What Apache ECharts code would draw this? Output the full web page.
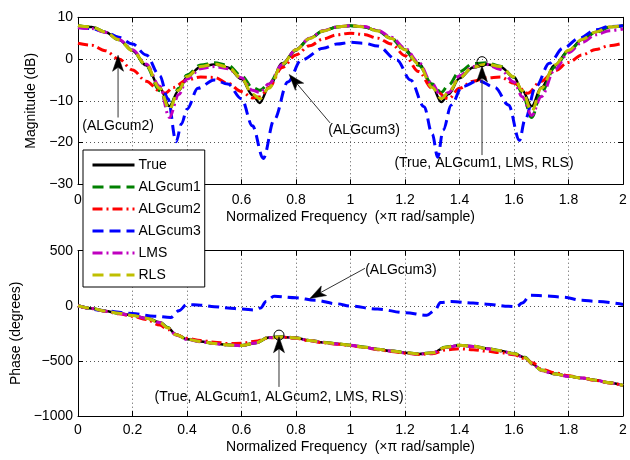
<!DOCTYPE html>
<html><head><meta charset="utf-8">
<script src="https://cdn.jsdelivr.net/npm/echarts@6/dist/echarts.min.js"></script>
<style>html,body{margin:0;padding:0;background:#fff}#c{width:630px;height:460px}</style>
</head><body><div id="c"></div>
<script>
// ---------------- data ----------------
const seriesNames = ['True', 'ALGcum1', 'ALGcum2', 'ALGcum3', 'LMS', 'RLS'];
const xTickValues = [0, 0.2, 0.4, 0.6, 0.8, 1, 1.2, 1.4, 1.6, 1.8, 2];
const magTicks = [-30, -20, -10, 0, 10];
const phaseTicks = [-1000, -500, 0, 500];

// magnitude (dB)
const freqMag = [0,0.05,0.1,0.15,0.2,0.25,0.3,0.335,0.37,0.4,0.45,0.5,0.55,0.6,0.64,0.667,0.7,0.75,0.8,0.85,0.9,0.95,1.0,1.05,1.1,1.15,1.2,1.25,1.3,1.333,1.36,1.4,1.45,1.5,1.55,1.6,1.63,1.665,1.7,1.75,1.8,1.85,1.9,1.95,2.0];
const magTrue = [8.0,7.7,6.5,4.6,2.0,-1.5,-6.8,-11.3,-7.5,-4.3,-1.9,-1.3,-2.0,-4.8,-8.6,-10.5,-6.8,-1.0,2.3,5.0,6.8,7.7,8.0,7.7,6.8,5.0,2.3,-1.0,-6.6,-10.3,-8.4,-4.6,-2.0,-1.3,-1.9,-4.3,-7.5,-11.3,-6.8,-1.5,2.0,4.6,6.5,7.7,8.0];
const magAlg1 = [8.0,7.7,6.5,4.6,2.1,-1.6,-7.6,-12.0,-7.0,-3.8,-1.4,-0.9,-1.5,-4.0,-6.8,-7.5,-6.0,-1.4,2.1,4.9,6.7,7.7,8.0,7.7,6.7,4.9,2.0,-1.5,-6.0,-8.0,-6.2,-3.0,-1.1,-0.9,-1.7,-4.4,-8.2,-14.0,-8.0,-1.9,1.9,4.5,6.4,7.6,8.0];
const magLMS = [7.5,7.3,6.4,4.7,2.2,-1.2,-6.5,-14.0,-8.5,-4.8,-2.3,-1.8,-2.3,-4.5,-7.5,-8.0,-6.0,-1.3,2.2,5.0,6.8,7.7,8.0,7.8,6.9,5.2,2.6,-0.8,-6.0,-9.0,-8.0,-4.0,-1.8,-1.3,-2.5,-5.5,-9.0,-13.5,-9.0,-2.5,1.5,4.0,5.8,6.8,7.2];
const magRLS = [8.0,7.7,6.5,4.6,2.0,-1.4,-7.0,-12.0,-7.4,-4.2,-1.8,-1.2,-1.9,-4.6,-8.4,-9.5,-7.0,-1.2,2.2,4.9,6.7,7.7,8.0,7.7,6.7,4.9,2.2,-1.2,-6.8,-9.5,-8.0,-4.5,-1.9,-1.2,-1.8,-4.3,-7.6,-12.5,-7.0,-1.4,2.1,4.7,6.5,7.7,8.0];
const freqAlg2 = [0,0.05,0.1,0.15,0.2,0.25,0.3,0.32,0.35,0.4,0.45,0.5,0.55,0.6,0.64,0.67,0.7,0.75,0.8,0.85,0.9,0.95,1.0,1.05,1.1,1.15,1.2,1.25,1.3,1.36,1.4,1.45,1.5,1.55,1.6,1.65,1.7,1.75,1.8,1.85,1.9,1.95,2.0];
const magAlg2 = [3.8,3.3,2.0,0.0,-2.6,-5.3,-7.6,-8.2,-6.8,-5.0,-4.3,-4.4,-5.8,-7.8,-9.3,-9.0,-6.8,-2.0,1.0,3.2,4.8,5.8,6.2,5.9,5.0,3.6,0.8,-3.0,-7.0,-9.5,-7.0,-5.3,-4.5,-4.3,-5.8,-8.2,-5.3,-2.8,-0.8,1.0,2.3,3.2,3.8];
const freqAlg3 = [0,0.05,0.1,0.15,0.2,0.25,0.3,0.33,0.36,0.38,0.4,0.44,0.5,0.55,0.6,0.64,0.68,0.72,0.77,0.82,0.9,0.95,1.0,1.05,1.1,1.17,1.22,1.27,1.3,1.32,1.34,1.37,1.41,1.47,1.53,1.58,1.62,1.64,1.68,1.73,1.78,1.84,1.9,1.95,2.0];
const magAlg3 = [7.6,7.3,6.5,5.2,3.6,1.0,-4.0,-9.5,-19.8,-15.5,-12.0,-7.0,-5.0,-6.0,-9.5,-16.0,-23.8,-14.5,-5.5,-0.2,2.6,3.6,4.0,3.8,3.1,-0.2,-5.0,-11.4,-18.0,-23.5,-17.0,-11.0,-6.6,-5.2,-6.8,-11.0,-19.5,-14.6,-6.6,-1.0,2.6,5.0,7.0,7.8,8.0];

// phase (degrees)
const freqPh = [0,0.05,0.1,0.15,0.2,0.25,0.3,0.33,0.36,0.4,0.45,0.5,0.55,0.6,0.65,0.7,0.75,0.8,0.85,0.9,0.95,1.0,1.05,1.1,1.15,1.2,1.25,1.3,1.35,1.4,1.45,1.5,1.55,1.6,1.64,1.67,1.7,1.75,1.8,1.85,1.9,1.95,2.0];
const phTrue = [0,-24,-48,-68,-87,-112,-150,-200,-262,-303,-325,-342,-355,-362,-340,-288,-282,-292,-315,-332,-345,-358,-375,-395,-410,-425,-437,-428,-375,-358,-367,-388,-408,-435,-470,-530,-585,-618,-640,-655,-675,-698,-723];
const phAlg1 = [0,-24,-48,-68,-86,-110,-148,-198,-260,-302,-324,-341,-354,-360,-338,-286,-280,-291,-314,-331,-344,-357,-374,-394,-409,-424,-436,-427,-373,-357,-366,-387,-407,-433,-468,-528,-583,-617,-639,-655,-675,-698,-723];
const phAlg2 = [0,-25,-50,-72,-95,-125,-175,-215,-262,-295,-315,-330,-342,-340,-322,-290,-285,-295,-318,-335,-348,-360,-378,-398,-415,-430,-442,-435,-400,-390,-398,-412,-425,-445,-480,-520,-575,-608,-635,-655,-678,-700,-724];
const phLMS = [0,-25,-50,-70,-88,-114,-152,-203,-265,-305,-326,-343,-356,-362,-338,-290,-283,-293,-316,-333,-346,-359,-376,-396,-411,-426,-438,-428,-378,-360,-369,-390,-410,-437,-473,-533,-588,-620,-641,-656,-676,-699,-724];
const phRLS = [0,-24,-48,-68,-87,-112,-151,-201,-262,-303,-325,-342,-355,-361,-339,-288,-282,-292,-315,-332,-345,-358,-375,-395,-410,-425,-437,-427,-375,-358,-367,-388,-408,-435,-471,-531,-585,-618,-640,-655,-675,-698,-723];
const freqPhAlg3 = [0,0.1,0.2,0.28,0.34,0.37,0.4,0.45,0.5,0.55,0.6,0.65,0.67,0.69,0.72,0.8,0.87,0.95,1.0,1.1,1.2,1.28,1.31,1.33,1.37,1.45,1.5,1.58,1.61,1.63,1.66,1.72,1.78,1.85,1.9,2.0];
const phAlg3 = [0,-45,-70,-94,-106,-45,12,6,-8,-20,-30,-38,-20,40,86,72,50,18,-3,-30,-62,-86,-40,30,38,25,15,-5,-8,25,95,90,78,50,40,12];

// annotations (data coordinates)
const magNotes = [
  {text: '(ALGcum2)', at: [0.147, -16.0], tail: [0.147, -14.0], tip: [0.147, 0.9]},
  {text: '(ALGcum3)', at: [1.05, -17.0], tail: [0.925, -15.3], tip: [0.775, -3.7]},
  {text: '(True, ALGcum1, LMS, RLS)', at: [1.49, -25.0], tail: [1.4826, -23.0], tip: [1.4826, -1.66], circle: [1.4826, -0.63]}
];
const phNotes = [
  {text: '(ALGcum3)', at: [1.185, 324], tail: [1.053, 340], tip: [0.851, 67]},
  {text: '(True, ALGcum1, ALGcum2, LMS, RLS)', at: [0.738, -827], tail: [0.7376, -736], tip: [0.7376, -280], circle: [0.7376, -266]}
];

// ---------------- chart ----------------
const FONT = '"Liberation Sans", Arial, Helvetica, sans-serif';
const FS = 14;
const styleMap = {
  'True':    {color: '#000000', width: 2.5, type: 'solid'},
  'ALGcum1': {color: '#008000', width: 3, type: [11, 6]},
  'ALGcum2': {color: '#ff0000', width: 3, type: [10, 4, 2, 4]},
  'ALGcum3': {color: '#0000ff', width: 3, type: [11, 6]},
  'LMS':     {color: '#bf00bf', width: 3, type: [10, 4, 2, 4]},
  'RLS':     {color: '#bfbf00', width: 3, type: [11, 6]}
};
const pairs = (xs, ys) => xs.map((x, i) => [x, ys[i]]);
const fmt = v => String(Math.round(v * 10) / 10).replace('-', '\u2212');
const gridLine = {show: true, lineStyle: {color: '#555', width: 1, type: [1, 3]}};
const axLine = {show: true, onZero: false, lineStyle: {color: '#000', width: 1}};
const tick = {show: true, inside: true, length: 5, lineStyle: {color: '#000', width: 1}};
const lbl = {color: '#000', fontSize: FS, fontFamily: FONT, formatter: fmt};

function xAxes(gi, margin, nameGap) {
  return [
    {type: 'value', gridIndex: gi, position: 'bottom', min: 0, max: 2, interval: 0.2,
     axisLine: axLine, axisTick: tick, splitLine: gridLine,
     axisLabel: Object.assign({margin: margin, showMinLabel: true, showMaxLabel: true}, lbl),
     name: 'Normalized Frequency  (\u00d7\u03c0 rad/sample)', nameLocation: 'middle', nameGap: nameGap,
     nameTextStyle: {color: '#000', fontSize: FS, fontFamily: FONT}},
    {type: 'value', gridIndex: gi, position: 'top', min: 0, max: 2, interval: 0.2,
     axisLine: axLine, axisTick: tick, splitLine: {show: false}, axisLabel: {show: false}}
  ];
}
function yAxes(gi, min, max, interval, name, nameGap) {
  return [
    {type: 'value', gridIndex: gi, position: 'left', min: min, max: max, interval: interval,
     axisLine: axLine, axisTick: tick, splitLine: gridLine,
     axisLabel: Object.assign({margin: 5, showMinLabel: true, showMaxLabel: true}, lbl),
     name: name, nameLocation: 'middle', nameGap: nameGap, nameRotate: 90,
     nameTextStyle: {color: '#000', fontSize: FS, fontFamily: FONT}},
    {type: 'value', gridIndex: gi, position: 'right', min: min, max: max, interval: interval,
     axisLine: axLine, axisTick: tick, splitLine: {show: false}, axisLabel: {show: false}}
  ];
}

const magData = {'True': pairs(freqMag, magTrue), 'ALGcum1': pairs(freqMag, magAlg1), 'ALGcum2': pairs(freqAlg2, magAlg2),
                 'ALGcum3': pairs(freqAlg3, magAlg3), 'LMS': pairs(freqMag, magLMS), 'RLS': pairs(freqMag, magRLS)};
const phData = {'True': pairs(freqPh, phTrue), 'ALGcum1': pairs(freqPh, phAlg1), 'ALGcum2': pairs(freqPh, phAlg2),
                'ALGcum3': pairs(freqPhAlg3, phAlg3), 'LMS': pairs(freqPh, phLMS), 'RLS': pairs(freqPh, phRLS)};

function mkSeries(name, data, xi, yi) {
  const s = styleMap[name];
  return {type: 'line', name: name, data: data, xAxisIndex: xi, yAxisIndex: yi,
    symbol: 'none', smooth: 0.35, smoothMonotone: 'x', clip: true, silent: true,
    color: s.color, lineStyle: {color: s.color, width: s.width, type: s.type, cap: 'butt'}};
}
const series = [];
seriesNames.forEach(n => series.push(mkSeries(n, magData[n], 0, 0)));
seriesNames.forEach(n => series.push(mkSeries(n, phData[n], 2, 2)));

const chart = echarts.init(document.getElementById('c'), null, {renderer: 'canvas'});
const option = {
  animation: false,
  backgroundColor: '#fff',
  grid: [
    {left: 78, right: 7, top: 17.3, height: 167, containLabel: false, outerBoundsMode: 'none'},
    {left: 78, right: 7, top: 250.7, height: 165.3, containLabel: false, outerBoundsMode: 'none'}
  ],
  xAxis: xAxes(0, 8.5, 25.5).concat(xAxes(1, 7, 24)),
  yAxis: yAxes(0, magTicks[0], magTicks[magTicks.length - 1], 10, 'Magnitude (dB)', 33)
    .concat(yAxes(1, phaseTicks[0], phaseTicks[phaseTicks.length - 1], 500, 'Phase (degrees)', 48)),
  legend: {
    show: true, orient: 'vertical', left: 83, top: 150,
    data: seriesNames, selectedMode: false,
    itemWidth: 42, itemHeight: 14, itemGap: 8,
    padding: [8, 4, 5, 8],
    backgroundColor: '#fff', borderColor: '#000', borderWidth: 1, borderRadius: 0,
    itemStyle: {opacity: 0},
    lineStyle: {width: 3},
    textStyle: {color: '#000', fontSize: FS, fontFamily: FONT, padding: [0, 0, 0, -1]},
    z: 20
  },
  series: series
};
chart.setOption(option);

// annotations placed through the axes' own scales
function arrowGraphics(gi, note) {
  const P = p => chart.convertToPixel({gridIndex: gi}, p);
  const t = P(note.at), a = P(note.tail), b = P(note.tip);
  const dx = b[0] - a[0], dy = b[1] - a[1], len = Math.hypot(dx, dy);
  const ux = dx / len, uy = dy / len, nx = -uy, ny = ux;
  const L = 16, W = 5.5, N = 12;
  const back = [b[0] - ux * L, b[1] - uy * L];
  const notch = [b[0] - ux * N, b[1] - uy * N];
  const els = [
    {type: 'line', silent: true, z: 30, shape: {x1: a[0], y1: a[1], x2: notch[0], y2: notch[1]},
     style: {stroke: '#333', lineWidth: 1}},
    {type: 'polygon', silent: true, z: 31, shape: {points: [b, [back[0] + nx * W, back[1] + ny * W], notch, [back[0] - nx * W, back[1] - ny * W]]},
     style: {fill: '#000', stroke: '#000', lineWidth: 0.5}},
    {type: 'text', silent: true, z: 32, x: t[0], y: t[1],
     style: {text: note.text, fill: '#000', fontSize: FS, fontFamily: FONT, align: 'center', verticalAlign: 'middle'}}
  ];
  if (note.circle) {
    const c = P(note.circle);
    els.push({type: 'circle', silent: true, z: 33, shape: {cx: c[0], cy: c[1], r: 5},
      style: {fill: null, stroke: '#000', lineWidth: 1}});
  }
  return els;
}
let g = [];
magNotes.forEach(n => { g = g.concat(arrowGraphics(0, n)); });
phNotes.forEach(n => { g = g.concat(arrowGraphics(1, n)); });
chart.setOption({graphic: g});
</script>
</body></html>
